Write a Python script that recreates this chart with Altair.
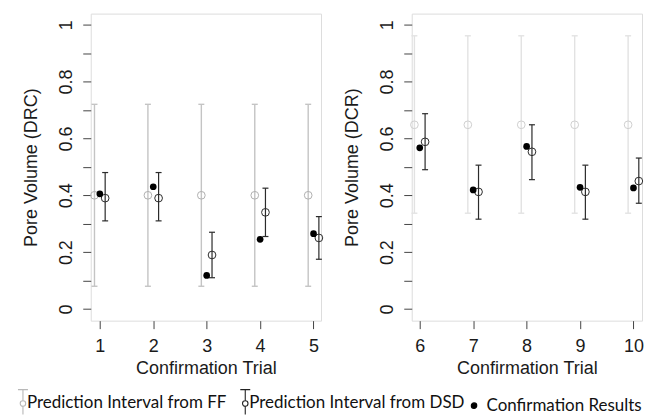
import altair as alt
import pandas as pd

# ---------------- data ----------------
trials_drc = [1, 2, 3, 4, 5]
ff_drc_fit = [0.40, 0.40, 0.40, 0.40, 0.40]
ff_drc_lo = [0.08, 0.08, 0.08, 0.08, 0.08]
ff_drc_hi = [0.72, 0.72, 0.72, 0.72, 0.72]
dsd_drc_fit = [0.39, 0.39, 0.19, 0.34, 0.25]
dsd_drc_lo = [0.31, 0.31, 0.11, 0.255, 0.175]
dsd_drc_hi = [0.48, 0.48, 0.27, 0.425, 0.325]
conf_drc = [0.405, 0.43, 0.118, 0.245, 0.265]

trials_dcr = [6, 7, 8, 9, 10]
ff_dcr_fit = [0.648, 0.648, 0.648, 0.648, 0.648]
ff_dcr_lo = [0.337, 0.337, 0.337, 0.337, 0.337]
ff_dcr_hi = [0.961, 0.961, 0.961, 0.961, 0.961]
dsd_dcr_fit = [0.588, 0.412, 0.553, 0.412, 0.45]
dsd_dcr_lo = [0.49, 0.316, 0.455, 0.316, 0.372]
dsd_dcr_hi = [0.687, 0.506, 0.648, 0.506, 0.531]
conf_dcr = [0.567, 0.419, 0.572, 0.428, 0.426]

series_names = ["Prediction Interval from FF", "Prediction Interval from DSD", "Confirmation Results"]
y_tick_values = [0, 0.1, 0.2, 0.3, 0.4, 0.5, 0.6, 0.7, 0.8, 0.9, 1.0]
y_tick_labels = ["0", "", "0.2", "", "0.4", "", "0.6", "", "0.8", "", "1"]
x_ticks_drc = [1, 2, 3, 4, 5]
x_ticks_dcr = [6, 7, 8, 9, 10]
side_offset = 0.1

# ---------------- helpers ----------------
FONT = "Liberation Sans"
FS = 18
label_expr = " : ".join(
    f"datum.value > {v - 0.01} && datum.value < {v + 0.01} ? '{l}'" for v, l in zip(y_tick_values, y_tick_labels)
) + " : ''"


def make_df(trials, ff_fit, ff_lo, ff_hi, dsd_fit, dsd_lo, dsd_hi, conf):
    rows = []
    for i, t in enumerate(trials):
        rows.append(dict(trial=t, off=-side_offset, fit=ff_fit[i], lo=ff_lo[i], hi=ff_hi[i], series="FF"))
        rows.append(dict(trial=t, off=side_offset, fit=dsd_fit[i], lo=dsd_lo[i], hi=dsd_hi[i], series="DSD"))
        rows.append(dict(trial=t, off=0.0, fit=conf[i], lo=None, hi=None, series="CONF"))
    return pd.DataFrame(rows)


def panel(df, xdom, xticks, ytitle, ff_line, ff_pt, legend_layer=None):
    xs = alt.Scale(domain=xdom, nice=False, zero=False)
    ys = alt.Scale(domain=[-0.041, 1.039], nice=False, zero=False)
    xax = alt.Axis(values=xticks, title="Confirmation Trial", domain=False, grid=False,
                   tickSize=8, tickColor="#444", tickWidth=1, labelFont=FONT, labelFontSize=FS,
                   labelColor="#1a1a1a", labelPadding=9, labelFlush=False, labelAngle=0,
                   labelBaseline="top", titleFont=FONT, titleFontSize=FS, titleFontWeight="normal",
                   titleColor="#1a1a1a", titleY=39, titleBaseline="top", format="d")
    yax = alt.Axis(values=y_tick_values, title=ytitle, domain=False, grid=False,
                   tickSize=8, tickColor="#444", tickWidth=1, labelFont=FONT, labelFontSize=FS,
                   labelColor="#1a1a1a", labelPadding=7, labelFlush=False, labelAngle=270,
                   labelAlign="center", labelBaseline="bottom", labelExpr=label_expr,
                   labelOverlap=False, titleFont=FONT, titleFontSize=FS, titleFontWeight="normal",
                   titleColor="#1a1a1a", titleAngle=270, titleX=-54, titleY=154,
                   titleBaseline="alphabetic", titleAlign="center")

    base = alt.Chart(df).transform_calculate(xpos="datum.trial + datum.off")
    X = alt.X("xpos:Q", scale=xs, axis=xax)

    def Y(f):
        return alt.Y(f, type="quantitative", scale=ys, axis=yax)

    layers = []
    for s, lc, pc in [("FF", ff_line, ff_pt), ("DSD", "#2b2b2b", "#2b2b2b")]:
        b = base.transform_filter(alt.datum.series == s)
        sw = 1.4 if s == "FF" else 1.2
        layers.append(b.mark_rule(color=lc, strokeWidth=sw).encode(x=X, y=Y("lo"), y2="hi"))
        layers.append(
            b.transform_fold(["lo", "hi"], as_=["end", "capval"])
            .mark_rule(color=lc, strokeWidth=sw, xOffset=-3, x2Offset=3)
            .encode(x=X, x2="xpos:Q", y=Y("capval"))
        )
        layers.append(
            b.mark_point(shape="circle", size=60, filled=False, color=pc, strokeWidth=1, opacity=1)
            .encode(x=X, y=Y("fit"))
        )
    layers.append(
        base.transform_filter(alt.datum.series == "CONF")
        .mark_circle(size=45, color="#000000", opacity=1)
        .encode(x=X, y=Y("fit"))
    )
    if legend_layer is not None:
        layers.append(legend_layer)
    return alt.layer(*layers).properties(width=231, height=308)


# ---------------- legend (custom symbols) ----------------
icon_path = ("M0.3,-2.6L2.3,-2.6M1.3,-2.6L1.3,-0.35M1.3,0.75L1.3,2.4"
             "M1.85,0.2A0.55,0.55,0,1,1,0.75,0.2A0.55,0.55,0,1,1,1.85,0.2")
dot_path = "M0.15,0A0.55,0.55,0,1,1,-0.95,0A0.55,0.55,0,1,1,0.15,0"
legend_df = pd.DataFrame({"series": series_names})
leg = alt.Legend(title=None, orient="none", legendX=-83, legendY=381.5, direction="horizontal",
                 labelFont="Lato", labelFontSize=17, labelColor="#111111", labelOffset=2,
                 columnPadding=3, symbolSize=100, symbolStrokeWidth=1.1, symbolOpacity=1,
                 labelLimit=400)
legend_layer = (
    alt.Chart(legend_df)
    .transform_filter("false")
    .mark_point(filled=False, opacity=1)
    .encode(
        shape=alt.Shape("series:N", scale=alt.Scale(domain=series_names, range=[icon_path, icon_path, dot_path]), legend=leg),
        stroke=alt.Stroke("series:N", scale=alt.Scale(domain=series_names, range=["#b8b8b8", "#222222", "#000000"]), legend=leg),
        fill=alt.Fill("series:N", scale=alt.Scale(domain=series_names, range=["transparent", "transparent", "#000000"]), legend=leg),
    )
)

df_drc = make_df(trials_drc, ff_drc_fit, ff_drc_lo, ff_drc_hi, dsd_drc_fit, dsd_drc_lo, dsd_drc_hi, conf_drc)
df_dcr = make_df(trials_dcr, ff_dcr_fit, ff_dcr_lo, ff_dcr_hi, dsd_dcr_fit, dsd_dcr_lo, dsd_dcr_hi, conf_dcr)

left = panel(df_drc, [0.83, 5.14], x_ticks_drc, "Pore Volume (DRC)", "#c4c4c4", "#b0b0b0", legend_layer)
right = panel(df_dcr, [5.85, 10.16], x_ticks_dcr, "Pore Volume (DCR)", "#e2e2e2", "#cfcfcf")

chart = (
    alt.hconcat(left, right, spacing=17)
    .properties(padding={"left": 0, "top": 4, "right": 0, "bottom": 0})
    .configure_view(stroke="#444444", strokeWidth=1)
    .configure(background="white")
)

chart.save("out.html", embed_options={"renderer": "svg", "actions": False})
